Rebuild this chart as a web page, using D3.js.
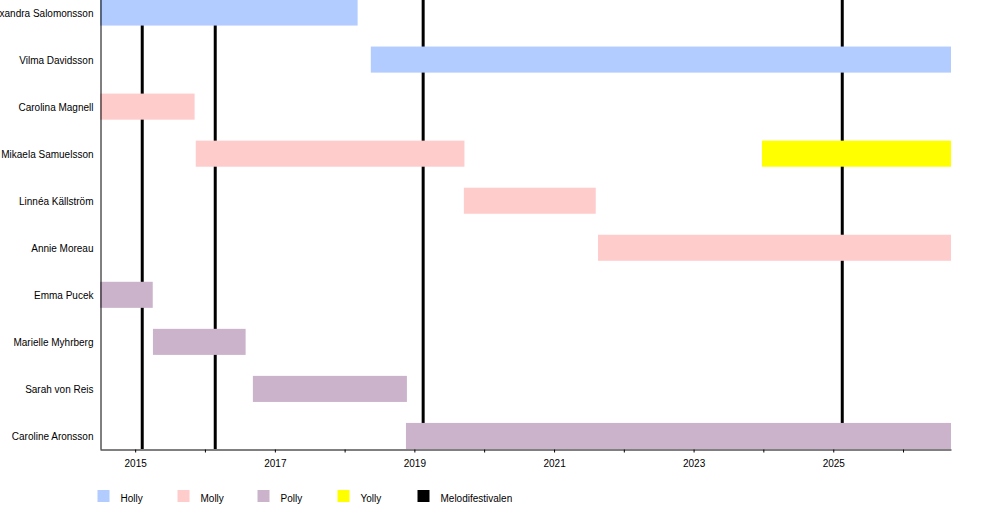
<!DOCTYPE html>
<html lang="sv">
<head>
	<meta charset="UTF-8">
	<title>Timeline</title>
	<script src="https://d3js.org/d3.v7.min.js" charset="utf-8"></script>
	<style>
		body { margin: 0; background: #fff; }
		text { font-family: "Liberation Sans", Arial, sans-serif; }
	</style>
</head>
<body>
	<svg></svg>
	<script>
		const parse = d3.timeParse('%Y-%m-%d')

		// members in display order (top to bottom)
		const members = [
			'Alexandra Salomonsson', 'Vilma Davidsson', 'Carolina Magnell',
			'Mikaela Samuelsson', 'Linnéa Källström', 'Annie Moreau',
			'Emma Pucek', 'Marielle Myhrberg', 'Sarah von Reis', 'Caroline Aronsson'
		]

		// periods: [member, role, from, till]
		const periods = [
			['Alexandra Salomonsson', 'Holly', '2014-07-01', '2018-03-10'],
			['Vilma Davidsson', 'Holly', '2018-05-18', '2026-09-09'],
			['Carolina Magnell', 'Molly', '2014-07-01', '2015-11-08'],
			['Mikaela Samuelsson', 'Molly', '2015-11-14', '2019-09-20'],
			['Mikaela Samuelsson', 'Yolly', '2023-12-25', '2026-09-09'],
			['Linnéa Källström', 'Molly', '2019-09-17', '2021-08-07'],
			['Annie Moreau', 'Molly', '2021-08-19', '2026-09-09'],
			['Emma Pucek', 'Polly', '2014-07-01', '2015-04-03'],
			['Marielle Myhrberg', 'Polly', '2015-04-04', '2016-08-01'],
			['Sarah von Reis', 'Polly', '2016-09-08', '2018-11-23'],
			['Caroline Aronsson', 'Polly', '2018-11-18', '2026-09-09']
		]

		// Melodifestivalen participations
		const melodifestivalen = ['2015-02-07', '2016-02-24', '2019-02-16', '2025-02-17']

		const roles = ['Holly', 'Molly', 'Polly', 'Yolly', 'Melodifestivalen']
		const roleColors = ['#b3ccff', '#ffcccc', '#ccb3cc', '#ffff00', '#000000']

		const timeStart = '2014-07-01'
		const timeEnd = '2026-09-09'

		const width = 1000, height = 508

		let svg = d3.select('svg')
			.attr('width', width)
			.attr('height', height)

		let x = d3.scaleTime()
			.domain([parse(timeStart), parse(timeEnd)])
			.range([100, 951])

		let y = d3.scaleBand()
			.domain(members)
			.range([-0.5, 449])
			.paddingInner(0.446)
			.paddingOuter(0)

		let color = d3.scaleOrdinal().domain(roles).range(roleColors)

		// event lines sit behind the bars
		svg.append('g')
			.selectAll('line')
			.data(melodifestivalen)
			.join('line')
			.attr('x1', d => x(parse(d)))
			.attr('x2', d => x(parse(d)))
			.attr('y1', 0)
			.attr('y2', 449)
			.attr('stroke', color('Melodifestivalen'))
			.attr('stroke-width', 3)

		svg.append('g')
			.selectAll('rect')
			.data(periods)
			.join('rect')
			.attr('x', d => x(parse(d[2])))
			.attr('width', d => x(parse(d[3])) - x(parse(d[2])))
			.attr('y', d => y(d[0]))
			.attr('height', y.bandwidth())
			.attr('fill', d => color(d[1]))

		// left axis with member names
		let yAxis = svg.append('g')
			.attr('transform', 'translate(100.5,0)')
			.call(d3.axisLeft(y).tickSize(0).tickPadding(7))
		yAxis.selectAll('text').attr('font-size', 10).attr('dy', '0.4em').attr('fill', '#000')
		yAxis.select('.domain').attr('stroke', '#000')

		// bottom time axis, label every other year
		let xAxis = svg.append('g')
			.attr('transform', 'translate(0,449.5)')
			.call(d3.axisBottom(x)
				.ticks(d3.timeYear.every(1))
				.tickFormat(d => d.getFullYear() % 2 === 1 ? d.getFullYear() : '')
				.tickSize(3)
				.tickSizeOuter(0)
				.tickPadding(7))
		xAxis.selectAll('text').attr('font-size', 10).attr('fill', '#000')

		// legend
		let legend = svg.append('g')
			.selectAll('g')
			.data(roles)
			.join('g')
			.attr('transform', (d, i) => `translate(${97.5 + i * 80},490)`)

		legend.append('rect')
			.attr('width', 12)
			.attr('height', 12)
			.attr('fill', d => color(d))

		legend.append('text')
			.attr('x', 23)
			.attr('y', 8)
			.attr('dy', '0.35em')
			.attr('font-size', 10)
			.attr('fill', '#000')
			.text(d => d)
	</script>
</body>
</html>
